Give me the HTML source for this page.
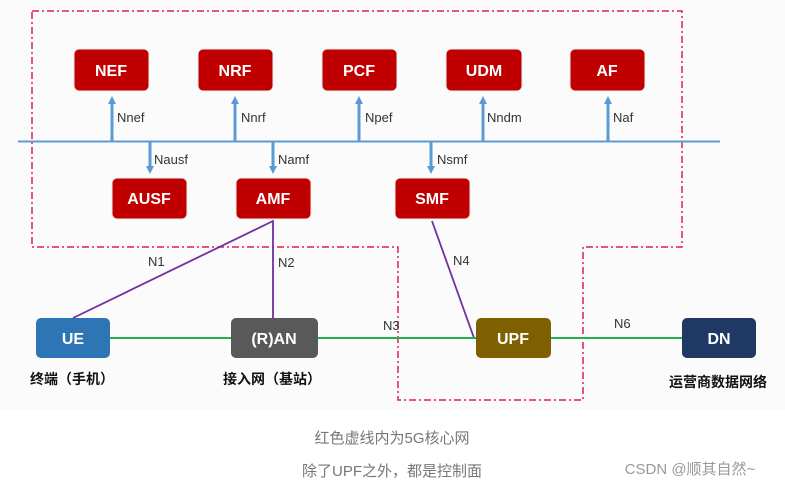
<!DOCTYPE html>
<html><head><meta charset="utf-8"><style>
html,body{margin:0;padding:0;background:#fff}
svg{display:block}
.b{font-family:"Liberation Sans","Noto Sans CJK SC",sans-serif;font-weight:bold;font-size:16px;fill:#fff;text-anchor:middle}
.l{font-family:"Liberation Sans",sans-serif;font-size:13px;fill:#333}
.c{font-family:"Liberation Sans","Noto Sans CJK SC",sans-serif;font-weight:bold;font-size:14px;fill:#111;text-anchor:middle}
.g{font-family:"Liberation Sans","Noto Sans CJK SC",sans-serif;font-size:15px;fill:#777;text-anchor:middle}
</style></head><body>
<svg width="785" height="488" viewBox="0 0 785 488" xmlns="http://www.w3.org/2000/svg">
<defs><marker id="a" markerWidth="8" markerHeight="8" refX="4" refY="4" orient="auto" markerUnits="userSpaceOnUse"><path d="M0,0 L8,4 L0,8 z" fill="#5b9bd5"/></marker></defs>
<rect x="0" y="0" width="785" height="410" fill="#fbfbfb"/>
<g fill="none" stroke="#e0204a" stroke-width="1.5" stroke-dasharray="7,3,2,3">
<path d="M32,11 H682 V247 H583 V400 H398 V247 H32 Z"/>
</g>
<line x1="18" y1="141.5" x2="720" y2="141.5" stroke="#5b9bd5" stroke-width="2"/>
<g stroke="#5b9bd5" stroke-width="3" marker-end="url(#a)">
<line x1="112" y1="141" x2="112" y2="100"/>
<line x1="235" y1="141" x2="235" y2="100"/>
<line x1="359" y1="141" x2="359" y2="100"/>
<line x1="483" y1="141" x2="483" y2="100"/>
<line x1="608" y1="141" x2="608" y2="100"/>
<line x1="150" y1="142" x2="150" y2="170"/>
<line x1="273" y1="142" x2="273" y2="170"/>
<line x1="431" y1="142" x2="431" y2="170"/>
</g>
<g class="l">
<text x="117" y="122">Nnef</text><text x="241" y="122">Nnrf</text><text x="365" y="122">Npef</text>
<text x="487" y="122">Nndm</text><text x="613" y="122">Naf</text>
<text x="154" y="164">Nausf</text><text x="278" y="164">Namf</text><text x="437" y="164">Nsmf</text>
<text x="148" y="266">N1</text><text x="278" y="267">N2</text><text x="453" y="265">N4</text>
<text x="383" y="330">N3</text><text x="614" y="328">N6</text>
</g>
<g stroke="#7030a0" stroke-width="1.8" fill="none">
<path d="M73,318 L273,221 L273,318"/>
<line x1="432" y1="221" x2="474" y2="338"/>
</g>
<g stroke="#22b04a" stroke-width="2">
<line x1="110" y1="338" x2="231" y2="338"/>
<line x1="318" y1="338" x2="476" y2="338"/>
<line x1="551" y1="338" x2="682" y2="338"/>
</g>
<g fill="#c00000" stroke="#eee" stroke-width="1">
<rect x="74" y="49" width="75" height="42" rx="5"/>
<rect x="198" y="49" width="75" height="42" rx="5"/>
<rect x="322" y="49" width="75" height="42" rx="5"/>
<rect x="446" y="49" width="76" height="42" rx="5"/>
<rect x="570" y="49" width="75" height="42" rx="5"/>
<rect x="112" y="178" width="75" height="41" rx="5"/>
<rect x="236" y="178" width="75" height="41" rx="5"/>
<rect x="395" y="178" width="75" height="41" rx="5"/>
</g>
<rect x="36" y="318" width="74" height="40" rx="5" fill="#2e75b6"/>
<rect x="231" y="318" width="87" height="40" rx="5" fill="#595959"/>
<rect x="476" y="318" width="75" height="40" rx="5" fill="#7f6000"/>
<rect x="682" y="318" width="74" height="40" rx="5" fill="#1f3864"/>
<g class="b">
<text x="111" y="76">NEF</text><text x="235" y="76">NRF</text><text x="359" y="76">PCF</text>
<text x="484" y="76">UDM</text><text x="607" y="76">AF</text>
<text x="149" y="204">AUSF</text><text x="273" y="204">AMF</text><text x="432" y="204">SMF</text>
<text x="73" y="344">UE</text><text x="274" y="344">(R)AN</text><text x="513" y="344">UPF</text><text x="719" y="344">DN</text>
</g>
<g class="c">
<text x="72" y="384">终端（手机）</text><text x="272" y="384">接入网（基站）</text><text x="718" y="387">运营商数据网络</text>
</g>
<text class="g" x="392" y="443">红色虚线内为5G核心网</text>
<text class="g" x="392" y="476">除了UPF之外，都是控制面</text>
<text x="690" y="474" style="font-family:'Liberation Sans','Noto Sans CJK SC',sans-serif;font-size:15px;fill:#999;text-anchor:middle">CSDN @顺其自然~</text>
</svg>
</body></html>
